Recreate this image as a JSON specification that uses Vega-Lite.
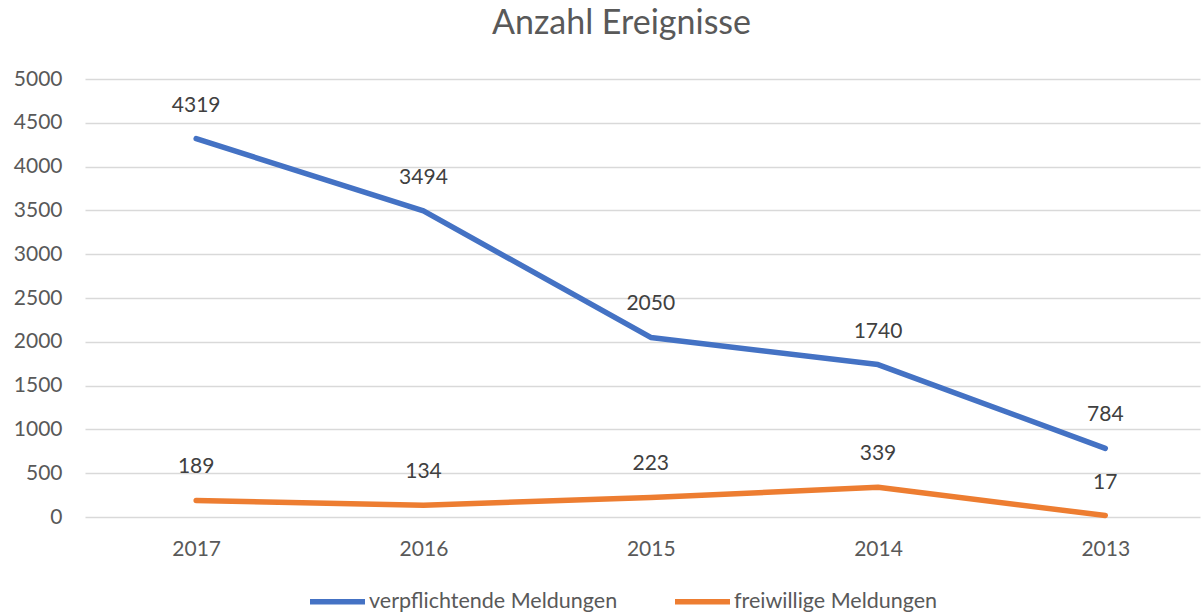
{
  "$schema": "https://vega.github.io/schema/vega-lite/v6.json",
  "autosize": {"type": "none"},
  "padding": {"left": 85, "top": 79, "right": 1, "bottom": 96},
  "width": 1115,
  "height": 438,
  "background": "white",
  "title": {
    "text": "Anzahl Ereignisse",
    "font": "Lato",
    "fontSize": 34,
    "fontWeight": "normal",
    "color": "#595959",
    "anchor": "middle",
    "dx": -21,
    "offset": 27
  },
  "config": {
    "view": {"stroke": null},
    "font": "Lato"
  },
  "data": {
    "values": [
      {"year": "2017", "series": "verpflichtende Meldungen", "value": 4319},
      {"year": "2016", "series": "verpflichtende Meldungen", "value": 3494},
      {"year": "2015", "series": "verpflichtende Meldungen", "value": 2050},
      {"year": "2014", "series": "verpflichtende Meldungen", "value": 1740},
      {"year": "2013", "series": "verpflichtende Meldungen", "value": 784},
      {"year": "2017", "series": "freiwillige Meldungen", "value": 189},
      {"year": "2016", "series": "freiwillige Meldungen", "value": 134},
      {"year": "2015", "series": "freiwillige Meldungen", "value": 223},
      {"year": "2014", "series": "freiwillige Meldungen", "value": 339},
      {"year": "2013", "series": "freiwillige Meldungen", "value": 17}
    ]
  },
  "encoding": {
    "x": {
      "field": "year",
      "type": "ordinal",
      "sort": ["2017", "2016", "2015", "2014", "2013"],
      "scale": {"type": "point", "padding": 0.453, "align": 0.54},
      "axis": {
        "title": null,
        "domain": false,
        "ticks": false,
        "grid": false,
        "labelAngle": 0,
        "labelFont": "Lato",
        "labelFontSize": 21,
        "labelColor": "#595959",
        "labelPadding": 21
      }
    },
    "y": {
      "field": "value",
      "type": "quantitative",
      "scale": {"domain": [0, 5000], "nice": false},
      "axis": {
        "title": null,
        "domain": false,
        "ticks": false,
        "values": [0, 500, 1000, 1500, 2000, 2500, 3000, 3500, 4000, 4500, 5000],
        "format": "d",
        "grid": true,
        "gridColor": "#D9D9D9",
        "gridWidth": 1.3,
        "labelFont": "Lato",
        "labelFontSize": 21,
        "labelColor": "#595959",
        "labelPadding": 23
      }
    },
    "color": {
      "field": "series",
      "type": "nominal",
      "scale": {
        "domain": ["verpflichtende Meldungen", "freiwillige Meldungen"],
        "range": ["#4472C4", "#ED7D31"]
      },
      "legend": {
        "title": null,
        "orient": "none",
        "direction": "horizontal",
        "legendX": 222,
        "legendY": 492,
        "symbolType": "stroke",
        "symbolSize": 3025,
        "symbolStrokeWidth": 5.5,
        "labelFont": "Lato",
        "labelFontSize": 21.5,
        "labelColor": "#595959",
        "labelOffset": 1,
        "labelLimit": 400,
        "columnPadding": 46
      }
    }
  },
  "layer": [
    {
      "mark": {"type": "line", "strokeWidth": 5.5, "strokeCap": "round", "strokeJoin": "round"}
    },
    {
      "mark": {
        "type": "text",
        "dy": -33,
        "baseline": "middle",
        "align": "center",
        "font": "Lato",
        "fontSize": 21,
        "color": "#404040"
      },
      "encoding": {
        "text": {"field": "value", "type": "quantitative"},
        "color": {"value": "#404040"}
      }
    }
  ]
}
